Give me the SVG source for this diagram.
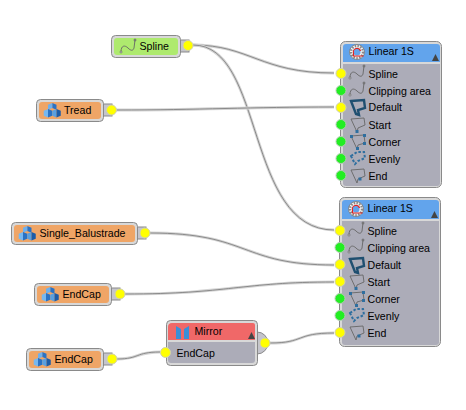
<svg xmlns="http://www.w3.org/2000/svg" width="466" height="410" viewBox="0 0 466 410">
<style>
text{font-family:"Liberation Sans",Arial,sans-serif;font-size:10.6px;fill:#000}
.o{fill:#d8d8d8;stroke:#8a8a8a;stroke-width:1}
.tab{fill:#c4c4cc;stroke:#8a8a8a;stroke-width:1}
.orange{fill:#efa566}
.green{fill:#aeea6e}
.body{fill:#acacb8}
.blue{fill:#62a4ec}
.red{fill:#f06868}
.py{fill:#ffff00;stroke:#d0d0b0;stroke-width:1}
.pg{fill:#22ee22;stroke:#b0ccb0;stroke-width:1}
.w1{fill:none;stroke:#d4d4d4;stroke-width:2.800}
.w2{fill:none;stroke:#777;stroke-width:.8}
.ic{fill:none;stroke:#666;stroke-width:.9}
.ict{fill:none;stroke:#1f4f70;stroke-width:2.400}
</style>
<defs>
<g id="cube" transform="scale(.85)">
<path d="M5 0 10 2v6L5 6z" fill="#2a72c4"/>
<path d="M5 0 0 2v6l5-2z" fill="#6fb0ec"/>
<path d="M0 7l-5 2v6l5 2z" fill="#77b8f0"/>
<path d="M0 7l5 2v6l-5 2z" fill="#2a72c4"/>
<path d="M10 7l-5 2v6l5 2z" fill="#5aa0e0"/>
<path d="M10 7l5 2v6l-5 2z" fill="#1c5ca8"/>
</g>
<path id="sp" class="ic" d="M0 12c0-7 4-7 7-4s5 3 6 0l1-8"/>
<g id="spline"><use href="#sp"/><circle cx="0" cy="12" r="1" fill="#fff" stroke="#555" stroke-width=".7"/><circle cx="14" cy="0" r="1" fill="#aaa" stroke="#555" stroke-width=".7"/></g>
<g id="iconDefault"><path class="ict" d="M1 1 14 0 15 8 8 10 9 15 6 14z"/></g>
<g id="iconStart"><path class="ic" d="M0 1 13 0 14 7 7 10 6 14z"/><rect x="4.500" y="12" width="3" height="3" fill="#2f6f9f"/></g>
<g id="iconCorner"><path class="ic" d="M0 1 13 0 14 8 7 10 6 14z"/><g fill="#2f6f9f"><rect x="-1" y="0" width="3" height="3"/><rect x="12" y="-1" width="3" height="3"/><rect x="12" y="7" width="3" height="3"/><rect x="5" y="12" width="3" height="3"/></g></g>
<g id="iconEvenly"><path d="M0 5 6 1 13 1 14 7 7 10 4 13z" fill="none" stroke="#2f6f9f" stroke-width="2" stroke-dasharray="2.500 1.800"/></g>
<g id="iconEnd"><path class="ic" d="M0 1 13 0 14 7 7 10 6 14z"/><rect x="7.500" y="8.500" width="3" height="3" fill="#2f6f9f"/></g>
<g id="gear"><circle r="7.500" fill="#f4f4f4" stroke="#777" stroke-width=".8"/><circle r="6" fill="none" stroke="#888" stroke-width="2.400" stroke-dasharray="1.500 1.300"/><circle r="3.500" fill="#62a4ec"/><path d="M-3.500 1a3.500 3.500 0 0 1 7-2M-3.500 1v3h10" fill="none" stroke="#e02020" stroke-width="1.200"/></g>
<path id="tri" d="M0 7 3.500 0 7 7z" fill="#444"/>
</defs>

<g id="connectors">
<path class="w1" d="M193 45C250 45 260 73 334 73"/><path class="w2" d="M193 45C250 45 260 73 334 73"/>
<path class="w1" d="M193 45C265 45 245 230 334 230"/><path class="w2" d="M193 45C265 45 245 230 334 230"/>
<path class="w1" d="M116 110C200 110 250 107 334 107"/><path class="w2" d="M116 110C200 110 250 107 334 107"/>
<path class="w1" d="M150 233C250 233 240 265 334 265"/><path class="w2" d="M150 233C250 233 240 265 334 265"/>
<path class="w1" d="M125 294C230 294 240 282 334 282"/><path class="w2" d="M125 294C230 294 240 282 334 282"/>
<path class="w1" d="M117 359C140 359 135 352 160 352"/><path class="w2" d="M117 359C140 359 135 352 160 352"/>
<path class="w1" d="M270 343C305 343 295 333 334 333"/><path class="w2" d="M270 343C305 343 295 333 334 333"/>
</g>

<g id="node-spline">
<rect class="tab" x="180" y="40" width="9" height="12"/>
<rect class="o" x="111.500" y="35.500" width="69" height="22" rx="4"/>
<rect class="green" x="114" y="38" width="64" height="17" rx="3"/>
<use href="#spline" transform="translate(121 40)"/>
<text x="139.500" y="50">Spline</text>
<circle class="py" cx="188" cy="45.500" r="5"/>
</g>

<g id="node-tread">
<rect class="tab" x="103" y="104" width="9" height="12"/>
<rect class="o" x="36.500" y="99.500" width="67" height="22" rx="4"/>
<rect class="orange" x="39" y="102" width="62" height="17" rx="3"/>
<use href="#cube" transform="translate(48 103)"/>
<text x="64" y="114">Tread</text>
<circle class="py" cx="111.500" cy="110" r="5"/>
</g>

<g id="node-single-balustrade">
<rect class="tab" x="137" y="227" width="9" height="12"/>
<rect class="o" x="11.500" y="222.500" width="126" height="22" rx="4"/>
<rect class="orange" x="14" y="225" width="121" height="17" rx="3"/>
<use href="#cube" transform="translate(23 226)"/>
<text x="39.500" y="237">Single_Balustrade</text>
<circle class="py" cx="145" cy="233" r="5"/>
</g>

<g id="node-endcap-1">
<rect class="tab" x="111" y="288" width="9" height="12"/>
<rect class="o" x="34.500" y="283.500" width="77" height="22" rx="4"/>
<rect class="orange" x="37" y="286" width="72" height="17" rx="3"/>
<use href="#cube" transform="translate(46 287)"/>
<text x="62.500" y="298">EndCap</text>
<circle class="py" cx="120" cy="294" r="5"/>
</g>

<g id="node-endcap-2">
<rect class="tab" x="103" y="353" width="9" height="12"/>
<rect class="o" x="26.500" y="348.500" width="77" height="22" rx="4"/>
<rect class="orange" x="29" y="351" width="72" height="17" rx="3"/>
<use href="#cube" transform="translate(38 352)"/>
<text x="54.500" y="363">EndCap</text>
<circle class="py" cx="112" cy="359" r="5"/>
</g>

<g id="node-mirror">
<path class="tab" d="M257 332a11 11 0 0 1 0 22z"/>
<rect class="o" x="166.500" y="320.500" width="91" height="45" rx="4"/>
<path class="red" d="M172 323H253a2 2 0 0 1 2 2V340H168V327a4 4 0 0 1 4-4z"/>
<path class="body" d="M168 342H255V360a3 3 0 0 1-3 3H171a3 3 0 0 1-3-3z"/>
<path d="M176 326l5 3v10h-5z" fill="#3a8fd8"/><path d="M189 326l-5 3v10h5z" fill="#3a8fd8"/>
<text x="194.500" y="335">Mirror</text>
<use href="#tri" transform="translate(248 332)"/>
<text x="176.500" y="357">EndCap</text>
<circle class="py" cx="165.500" cy="352.500" r="5"/>
<circle class="py" cx="265" cy="343" r="5"/>
</g>

<g id="node-linear-1">
<rect class="o" x="340.500" y="41.500" width="101" height="146" rx="5"/>
<path class="blue" d="M346 44H437a3 3 0 0 1 3 3V62H343V47a3 3 0 0 1 3-3z"/>
<path class="body" d="M343 64H440V183a3 3 0 0 1-3 3H346a3 3 0 0 1-3-3z"/>
<use href="#gear" transform="translate(357 52)"/>
<text x="368.500" y="55">Linear 1S</text>
<use href="#tri" transform="translate(432 54)"/>
<use href="#spline" transform="translate(350 66)"/>
<text x="368.500" y="78">Spline</text>
<use href="#spline" transform="translate(350 83)"/>
<text x="368.500" y="95">Clipping area</text>
<use href="#iconDefault" transform="translate(350 100)"/>
<text x="368.500" y="111">Default</text>
<use href="#iconStart" transform="translate(351 118)"/>
<text x="368.500" y="129">Start</text>
<use href="#iconCorner" transform="translate(351 135)"/>
<text x="368.500" y="146">Corner</text>
<use href="#iconEvenly" transform="translate(351 151)"/>
<text x="368.500" y="163">Evenly</text>
<use href="#iconEnd" transform="translate(351 169)"/>
<text x="368.500" y="180">End</text>
<circle class="py" cx="341" cy="73.500" r="5"/>
<circle class="pg" cx="341" cy="90.500" r="5"/>
<circle class="py" cx="341" cy="107.500" r="5"/>
<circle class="pg" cx="341" cy="124.500" r="5"/>
<circle class="pg" cx="341" cy="141.500" r="5"/>
<circle class="pg" cx="341" cy="158.500" r="5"/>
<circle class="pg" cx="341" cy="175.500" r="5"/>
</g>

<g id="node-linear-2">
<rect class="o" x="339.500" y="197.500" width="101" height="149" rx="5"/>
<path class="blue" d="M345 200H436a3 3 0 0 1 3 3V219H342V203a3 3 0 0 1 3-3z"/>
<path class="body" d="M342 221H439V342a3 3 0 0 1-3 3H345a3 3 0 0 1-3-3z"/>
<use href="#gear" transform="translate(356 209)"/>
<text x="367.500" y="212">Linear 1S</text>
<use href="#tri" transform="translate(431 211)"/>
<use href="#spline" transform="translate(349 223)"/>
<text x="367.500" y="235">Spline</text>
<use href="#spline" transform="translate(349 240)"/>
<text x="367.500" y="252">Clipping area</text>
<use href="#iconDefault" transform="translate(349 258)"/>
<text x="367.500" y="269">Default</text>
<use href="#iconStart" transform="translate(350 275)"/>
<text x="367.500" y="286">Start</text>
<use href="#iconCorner" transform="translate(350 292)"/>
<text x="367.500" y="303">Corner</text>
<use href="#iconEvenly" transform="translate(350 308)"/>
<text x="367.500" y="320">Evenly</text>
<use href="#iconEnd" transform="translate(350 326)"/>
<text x="367.500" y="337">End</text>
<circle class="py" cx="340" cy="230.500" r="5"/>
<circle class="pg" cx="340" cy="247.500" r="5"/>
<circle class="py" cx="340" cy="264.500" r="5"/>
<circle class="py" cx="340" cy="281.500" r="5"/>
<circle class="pg" cx="340" cy="298.500" r="5"/>
<circle class="pg" cx="340" cy="315.500" r="5"/>
<circle class="py" cx="340" cy="332.500" r="5"/>
</g>
</svg>
